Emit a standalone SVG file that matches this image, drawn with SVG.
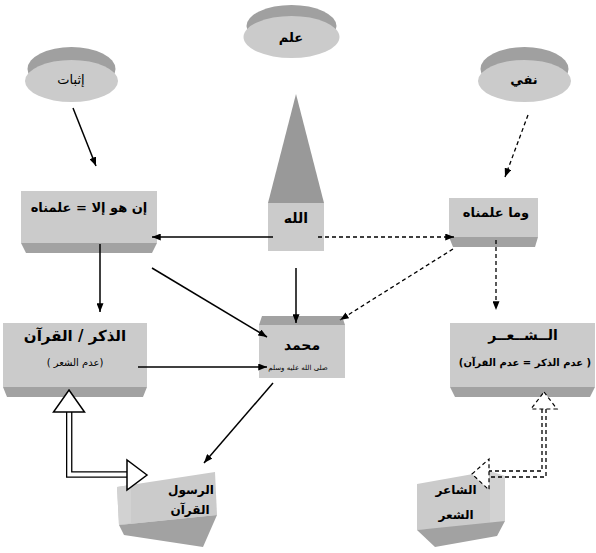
<svg xmlns="http://www.w3.org/2000/svg" width="596" height="553" viewBox="0 0 596 553">
<style>
.face{fill:#cbcbcb}
.dark{fill:#a2a2a2}
.rim{fill:#a0a0a0}
.side{fill:#d2d2d2}
.t{font-family:"DejaVu Sans","Noto Sans",sans-serif;fill:#000;text-anchor:middle}
.b{font-weight:bold}
.rtl{direction:rtl;unicode-bidi:embed}
.ln{fill:none;stroke:#000;stroke-width:1.5}
.dl{fill:none;stroke:#000;stroke-width:1.3;stroke-dasharray:4 3}
</style>
<defs>
<marker id="ah" viewBox="0 0 10 8" refX="10" refY="4" markerWidth="9" markerHeight="7" orient="auto" markerUnits="userSpaceOnUse">
<path d="M0,0 L10,4 L0,8 z" fill="#000"/>
</marker>
</defs>
<rect width="596" height="553" fill="#fff"/>
<g id="ithbat">
<ellipse class="rim" cx="71.5" cy="69" rx="44" ry="22"/>
<ellipse class="face" cx="71.5" cy="81" rx="46.5" ry="21"/>
<text class="t" x="71" y="84" font-size="13">إثبات</text>
</g>
<g id="ilm">
<ellipse class="rim" cx="291.5" cy="26" rx="45" ry="21"/>
<ellipse class="face" cx="291.5" cy="37" rx="48" ry="21"/>
<text class="t b" x="291" y="42" font-size="13">علم</text>
</g>
<g id="nafy">
<ellipse class="rim" cx="524.5" cy="69" rx="44" ry="22"/>
<ellipse class="face" cx="524.5" cy="81" rx="46.5" ry="21"/>
<text class="t b" x="524" y="84" font-size="13">نفي</text>
</g>
<g id="allah">
<polygon points="296,94 324,203 268,203" fill="#999"/>
<rect class="face" x="268" y="203" width="56" height="48"/>
<text class="t b" x="296" y="223" font-size="14">الله</text>
</g>
<g id="in-huwa">
<rect class="face" x="21" y="191" width="136" height="52"/>
<polygon class="dark" points="21,243 157,243 152,253 26,253"/>
<text class="t b rtl" x="89" y="212" font-size="13">إن هو إلا = علمناه</text>
</g>
<g id="wama">
<rect class="face" x="449" y="198" width="89" height="39"/>
<polygon class="dark" points="449,237 538,237 535,247 453,247"/>
<text class="t b" x="496" y="217" font-size="13">وما علمناه</text>
</g>
<g id="dhikr">
<rect class="face" x="3" y="323" width="144" height="64"/>
<polygon class="dark" points="3,387 147,387 143,397 7,397"/>
<text class="t b rtl" x="75" y="341" font-size="15">الذكر / القرآن</text>
<text class="t rtl" x="75" y="366" font-size="10">(عدم الشعر )</text>
</g>
<g id="muhammad">
<polygon class="dark" points="262,316 342,316 345,325 259,325"/>
<rect class="face" x="259" y="325" width="86" height="53"/>
<text class="t b" x="302" y="350" font-size="14">محمد</text>
<text class="t" x="298" y="370" font-size="7">صلى الله عليه وسلم</text>
</g>
<g id="shiir">
<rect class="face" x="450" y="323" width="145" height="64"/>
<polygon class="dark" points="450,387 595,387 590,397 455,397"/>
<text class="t b" x="523" y="340" font-size="14">الــشــعــر</text>
<text class="t b rtl" x="525" y="366" font-size="10">( عدم الذكر = عدم القرآن)</text>
</g>
<g id="rasul">
<polygon class="face" points="117,487 215,472 217,515 119,525"/>
<polygon class="side" points="117,487 131,485 131,523 119,525"/>
<polygon class="dark" points="119,525 217,515 203,547 124,535"/>
<text class="t b" x="191" y="494" font-size="12">الرسول</text>
<text class="t b" x="190" y="514" font-size="12">القرآن</text>
</g>
<g id="shair">
<polygon class="face" points="417,484 490,471 490,527 417,530"/>
<polygon class="side" points="490,471 505,476 505,521 490,527"/>
<polygon class="dark" points="417,530 505,521 497,536 435,547"/>
<text class="t b" x="456" y="494" font-size="12">الشاعر</text>
<text class="t b" x="456" y="519" font-size="12">الشعر</text>
</g>
<g id="connectors">
<line class="ln" x1="73" y1="108" x2="96" y2="166" marker-end="url(#ah)"/>
<line class="dl" x1="528" y1="115" x2="505" y2="177" marker-end="url(#ah)"/>
<line class="ln" x1="273" y1="237" x2="152" y2="237" marker-end="url(#ah)"/>
<line class="dl" x1="318" y1="237" x2="454" y2="237" marker-end="url(#ah)"/>
<line class="ln" x1="100" y1="244" x2="100" y2="312" marker-end="url(#ah)"/>
<line class="dl" x1="496" y1="240" x2="496" y2="310" marker-end="url(#ah)"/>
<line class="ln" x1="296" y1="268" x2="296" y2="323" marker-end="url(#ah)"/>
<line class="ln" x1="152" y1="268" x2="267" y2="337" marker-end="url(#ah)"/>
<line class="dl" x1="453" y1="249" x2="340" y2="320" marker-end="url(#ah)"/>
<line class="ln" x1="138" y1="367" x2="267" y2="367" marker-end="url(#ah)"/>
<line class="ln" x1="273" y1="383" x2="204" y2="463" marker-end="url(#ah)"/>
<path d="M69.2,411 V474.5 H128" fill="none" stroke="#000" stroke-width="6.4"/>
<path d="M69.2,411 V474.5 H128" fill="none" stroke="#fff" stroke-width="3.8"/>
<polygon points="69,390 84.5,412 53.5,412" fill="#fff" stroke="#000" stroke-width="1.5"/>
<polygon points="147,475 127,460 127,490" fill="#fff" stroke="#000" stroke-width="1.5"/>
<path d="M546,409 V477 H489" class="dl" stroke-width="1.2"/>
<path d="M542,409 V471 H489" class="dl" stroke-width="1.2"/>
<polygon points="544,392 557,409 531,409" fill="#fff" stroke="#000" stroke-width="1.2" stroke-dasharray="4 3"/>
<polygon points="472,474 489,459 489,490" fill="#fff" stroke="#000" stroke-width="1.2" stroke-dasharray="4 3"/>
</g>
</svg>
